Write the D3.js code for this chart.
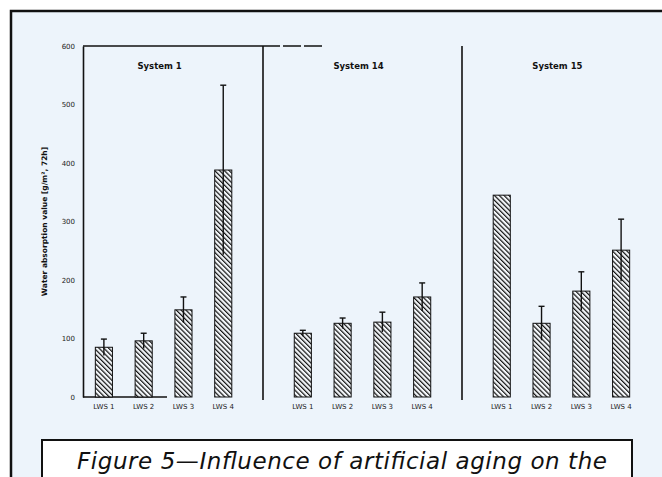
<!DOCTYPE html>
<html>
<head>
<meta charset="utf-8">
<script src="https://cdn.jsdelivr.net/npm/d3@7"></script>
<style>
  html, body { margin: 0; padding: 0; background: #fff; }
  svg { display: block; }
</style>
</head>
<body>
<svg id="chart" width="662" height="477"></svg>
<script>
// data
const systems = ["System 1", "System 14", "System 15"];
const samples = ["LWS 1", "LWS 2", "LWS 3", "LWS 4"];
const system1Values = [85, 96, 149, 388];
const system1Errors = [14, 13, 22, 145];
const system14Values = [109, 126, 128, 171];
const system14Errors = [5, 9, 17, 24];
const system15Values = [345, 126, 181, 251];
const system15Errors = [0, 29, 33, 53];
const yTicks = [0, 100, 200, 300, 400, 500, 600];

const rows = [];
[system1Values, system14Values, system15Values].forEach((vals, i) => {
  const errs = [system1Errors, system14Errors, system15Errors][i];
  vals.forEach((v, j) => rows.push({ system: systems[i], sample: samples[j], value: v, err: errs[j] }));
});

const svg = d3.select("#chart");

// panel background + frame
svg.append("rect").attr("x", 11).attr("y", 11).attr("width", 670).attr("height", 490)
  .attr("fill", "#edf4fb").attr("stroke", "#111").attr("stroke-width", 2.5);

// hatch
const defs = svg.append("defs");
const pat = defs.append("pattern").attr("id", "hatch")
  .attr("patternUnits", "userSpaceOnUse").attr("width", 3.4).attr("height", 3.4)
  .attr("patternTransform", "rotate(-45)");
pat.append("rect").attr("width", 3.4).attr("height", 3.4).attr("fill", "#f4f7fa");
pat.append("line").attr("x1", 0).attr("y1", 0).attr("x2", 0).attr("y2", 3.4)
  .attr("stroke", "#111").attr("stroke-width", 2.4);

const y = d3.scaleLinear().domain([0, 600]).range([397, 46]);
const x0 = d3.scaleBand().domain(systems).range([84, 641]).paddingInner(0.2).paddingOuter(0);
const x1 = d3.scaleBand().domain(samples).range([0, x0.bandwidth()]).paddingInner(0.57).paddingOuter(0.285);

// Y axis
const yAxis = svg.append("g").attr("transform", "translate(83,0)")
  .call(d3.axisLeft(y).tickValues(yTicks).tickSize(0).tickPadding(8));
yAxis.select(".domain").attr("stroke", "#111").attr("stroke-width", 1.6);
yAxis.selectAll("text").attr("font-family", "DejaVu Sans, sans-serif").attr("font-size", 7).attr("fill", "#222");

svg.append("text")
  .attr("transform", "translate(47," + y(300) + ") rotate(-90)")
  .attr("text-anchor", "middle")
  .attr("font-family", "DejaVu Sans, sans-serif").attr("font-weight", "bold").attr("font-size", 7.5)
  .attr("fill", "#111")
  .text("Water absorption value [g/m², 72h]");

// frame lines of the plot
svg.append("line").attr("x1", 83).attr("x2", 262).attr("y1", 46).attr("y2", 46)
  .attr("stroke", "#111").attr("stroke-width", 1.5);
svg.append("line").attr("x1", 262).attr("x2", 322).attr("y1", 46).attr("y2", 46)
  .attr("stroke", "#111").attr("stroke-width", 1.5).attr("stroke-dasharray", "18,3");
svg.append("line").attr("x1", 83).attr("x2", 167).attr("y1", 397).attr("y2", 397)
  .attr("stroke", "#111").attr("stroke-width", 1.5);

// dividers between systems
const step = x0.step();
systems.slice(1).forEach(s => {
  const xd = Math.round(x0(s) - (step - x0.bandwidth()) / 2);
  svg.append("line").attr("x1", xd).attr("x2", xd).attr("y1", 46).attr("y2", 400)
    .attr("stroke", "#111").attr("stroke-width", 1.6);
});

// system titles
svg.selectAll(".sys").data(systems).enter().append("text")
  .attr("x", d => x0(d) + x0.bandwidth() / 2 - 4)
  .attr("y", 69)
  .attr("text-anchor", "middle")
  .attr("font-family", "DejaVu Sans, sans-serif").attr("font-weight", "bold").attr("font-size", 8.5)
  .attr("fill", "#111")
  .text(d => d);

// bars
const bars = svg.append("g");
bars.selectAll("rect").data(rows).enter().append("rect")
  .attr("x", d => x0(d.system) + x1(d.sample))
  .attr("y", d => y(d.value))
  .attr("width", x1.bandwidth())
  .attr("height", d => y(0) - y(d.value))
  .attr("fill", "url(#hatch)")
  .attr("stroke", "#111").attr("stroke-width", 1);

// error bars
const eb = svg.append("g").attr("stroke", "#111").attr("stroke-width", 1.4);
rows.filter(d => d.err > 0).forEach(d => {
  const cx = x0(d.system) + x1(d.sample) + x1.bandwidth() / 2;
  eb.append("line").attr("x1", cx).attr("x2", cx).attr("y1", y(d.value - d.err)).attr("y2", y(d.value + d.err));
  eb.append("line").attr("x1", cx - 3).attr("x2", cx + 3).attr("y1", y(d.value + d.err)).attr("y2", y(d.value + d.err));
});

// sample labels
svg.append("g").selectAll("text").data(rows).enter().append("text")
  .attr("x", d => x0(d.system) + x1(d.sample) + x1.bandwidth() / 2)
  .attr("y", 409)
  .attr("text-anchor", "middle")
  .attr("font-family", "DejaVu Sans, sans-serif").attr("font-size", 7).attr("fill", "#222")
  .text(d => d.sample);

// caption box
svg.append("rect").attr("x", 42).attr("y", 440).attr("width", 590).attr("height", 60)
  .attr("fill", "#fff").attr("stroke", "#111").attr("stroke-width", 2);
svg.append("text").attr("x", 77).attr("y", 469)
  .attr("font-family", "DejaVu Sans, sans-serif").attr("font-style", "italic").attr("font-size", 23)
  .attr("fill", "#111")
  .attr("textLength", 530).attr("lengthAdjust", "spacing")
  .text("Figure 5—Influence of artificial aging on the");
</script>
</body>
</html>
